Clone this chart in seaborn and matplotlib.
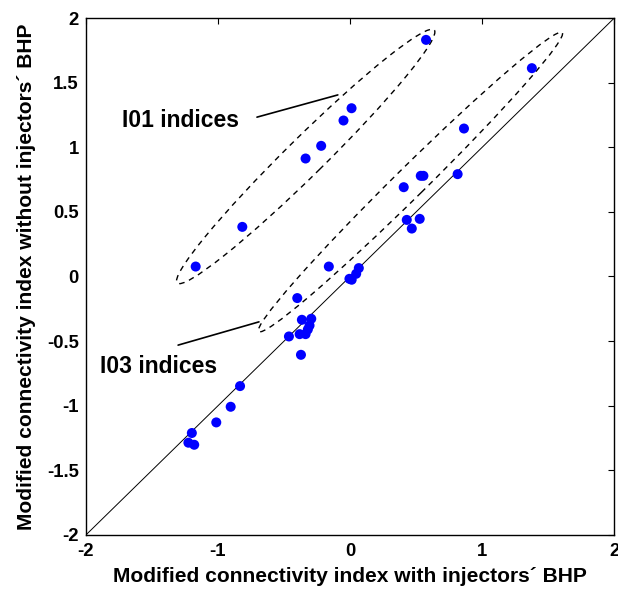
import matplotlib
matplotlib.use("Agg")
import matplotlib.pyplot as plt
from matplotlib.patches import Ellipse
import numpy as np
import pandas as pd
import seaborn as sns

# Connectivity indices: with injectors' BHP (x) vs. without (y)
i01_x = [-1.169, -0.816, -0.337, -0.219, -0.050, 0.011, 0.575]
i01_y = [0.077, 0.384, 0.913, 1.011, 1.207, 1.302, 1.831]

i03_x = [1.376, 0.862, 0.535, 0.555, 0.406, 0.814, 0.429, 0.527, 0.467,
         -0.161, 0.066, 0.046, -0.005, 0.012, -0.400, -0.365, -0.294,
         -0.307, -0.320, -0.382, -0.337, -0.463, -0.372, -0.833, -0.904,
         -1.013, -1.198, -1.224, -1.180]
i03_y = [1.612, 1.145, 0.779, 0.779, 0.691, 0.792, 0.438, 0.446, 0.371,
         0.077, 0.065, 0.021, -0.018, -0.025, -0.167, -0.335, -0.327,
         -0.379, -0.410, -0.446, -0.446, -0.464, -0.606, -0.848, -1.008,
         -1.129, -1.211, -1.286, -1.302]

axis_range = [-2, 2]
tick_values = [-2, -1.5, -1, -0.5, 0, 0.5, 1, 1.5, 2]
x_tick_values = [-2, -1, 0, 1, 2]

# Group outlines: centre, full major / minor length, angle (deg)
groups = {
    "I01 indices": dict(center=(-0.336, 0.929), width=2.76, height=0.29, angle=45.2,
                        leader=([-0.705, -0.093], [1.233, 1.405]),
                        text_pos=(-1.726, 1.204)),
    "I03 indices": dict(center=(0.457, 0.731), width=3.26, height=0.23, angle=45.2,
                        leader=([-1.302, -0.690], [-0.531, -0.351]),
                        text_pos=(-1.896, -0.696)),
}

df = pd.DataFrame({
    "with_bhp": i01_x + i03_x,
    "without_bhp": i01_y + i03_y,
})

sns.set_theme(style="white")
plt.rcParams["font.family"] = ["Liberation Sans", "DejaVu Sans"]
plt.rcParams["font.weight"] = "bold"
plt.rcParams["text.color"] = "black"
plt.rcParams["axes.labelcolor"] = "black"

fig = plt.figure(figsize=(6.18, 5.91), dpi=100)
ax = fig.add_axes([0.139, 0.0948, 0.855, 0.8747])

ax.plot(axis_range, axis_range, color="black", lw=0.7, zorder=1)

for label, g in groups.items():
    ax.add_patch(Ellipse(g["center"], g["width"], g["height"], angle=g["angle"],
                         fill=False, edgecolor="black", lw=1.0,
                         linestyle=(0, (4, 3.5)), zorder=2))
    ax.plot(g["leader"][0], g["leader"][1], color="black", lw=1.2, zorder=2)
    ax.text(g["text_pos"][0], g["text_pos"][1], label, fontsize=16.5,
            fontweight="bold", ha="left", va="center", color="black")

sns.scatterplot(data=df, x="with_bhp", y="without_bhp", ax=ax, color="#0000ff",
                s=52, edgecolor="none", linewidth=0, zorder=3)

ax.set_xlim(axis_range)
ax.set_ylim(axis_range)
ax.set_xticks(x_tick_values)
ax.set_yticks(tick_values)
ax.set_xticklabels([f"{v:g}" for v in x_tick_values])
ax.set_yticklabels([f"{v:g}" for v in tick_values])
ax.tick_params(direction="in", length=4, width=0.8, top=True, right=True,
               labelsize=13.3, colors="black", labelcolor="black")
ax.tick_params(axis="x", pad=6)
ax.tick_params(axis="y", pad=5)
for lab in ax.get_xticklabels() + ax.get_yticklabels():
    lab.set_fontweight("bold")
for sp in ax.spines.values():
    sp.set_color("black")
    sp.set_linewidth(1.0)

ax.set_xlabel("Modified connectivity index with injectors\u00b4 BHP",
              fontsize=15.1, fontweight="bold", labelpad=5, color="black")
ax.set_ylabel("Modified connectivity index without injectors\u00b4 BHP",
              fontsize=15.1, fontweight="bold", labelpad=8, color="black")

fig.savefig("out.png", dpi=100, facecolor="white")
